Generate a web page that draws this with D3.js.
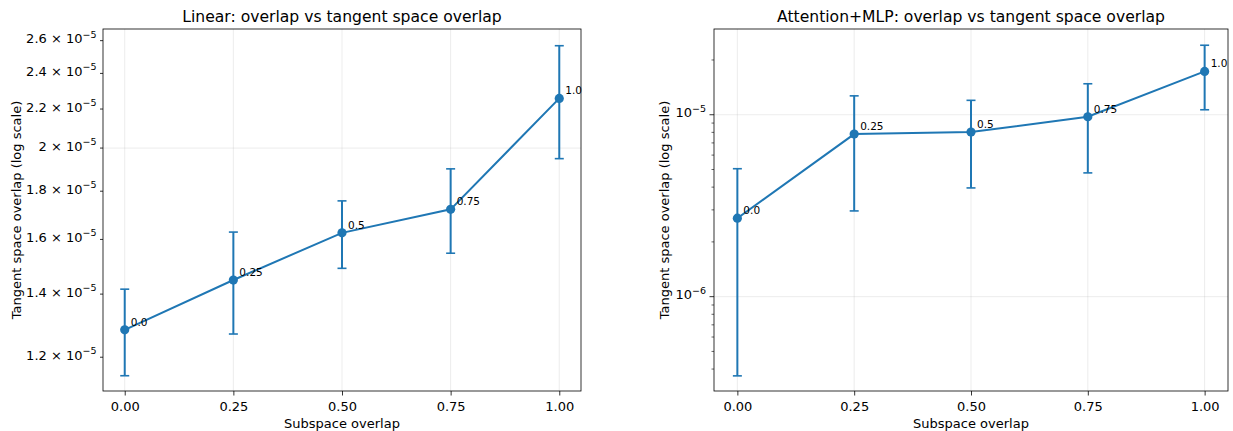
<!DOCTYPE html>
<html>
<head>
<meta charset="utf-8">
<script src="https://cdn.jsdelivr.net/npm/d3@7"></script>
<style>
  body { margin: 0; background: #fff; }
  svg { font-family: "DejaVu Sans", sans-serif; }
</style>
</head>
<body>
<div id="chart"></div>
<script>
// x positions (subspace overlap) shared by both panels
const OVERLAP = [0.0, 0.25, 0.5, 0.75, 1.0];
const POINT_LABELS = ['0.0', '0.25', '0.5', '0.75', '1.0'];
const X_TICKS = [0, 0.25, 0.5, 0.75, 1.0];

// left panel: Linear
const LINEAR_MEAN = [1.283e-5, 1.449e-5, 1.626e-5, 1.722e-5, 2.258e-5];
const LINEAR_LOW  = [1.147e-5, 1.270e-5, 1.491e-5, 1.547e-5, 1.949e-5];
const LINEAR_HIGH = [1.417e-5, 1.629e-5, 1.758e-5, 1.901e-5, 2.568e-5];
const LINEAR_YTICKS = [1.2e-5, 1.4e-5, 1.6e-5, 1.8e-5, 2.0e-5, 2.2e-5, 2.4e-5, 2.6e-5];
const LINEAR_TICKTEXT = ['1.2', '1.4', '1.6', '1.8', '2', '2.2', '2.4', '2.6'];
const LINEAR_GRID = [2e-5];

// right panel: Attention+MLP
const ATTN_MEAN = [2.70e-6, 7.83e-6, 8.03e-6, 9.75e-6, 1.73e-5];
const ATTN_LOW  = [3.67e-7, 2.96e-6, 3.96e-6, 4.79e-6, 1.065e-5];
const ATTN_HIGH = [5.05e-6, 1.27e-5, 1.20e-5, 1.48e-5, 2.41e-5];
const ATTN_MAJOR = [1e-6, 1e-5];
const ATTN_MAJOR_EXP = ['−6', '−5'];
const ATTN_MINOR = [4e-7, 5e-7, 6e-7, 7e-7, 8e-7, 9e-7,
                    2e-6, 3e-6, 4e-6, 5e-6, 6e-6, 7e-6, 8e-6, 9e-6, 2e-5];

const W = 1233, H = 431;
const BLUE = '#1f77b4';

const svg = d3.select('#chart').append('svg')
  .attr('width', W).attr('height', H);

function panel(opt) {
  const m = opt.box;
  const g = svg.append('g');

  const x = d3.scaleLinear().domain([-0.05, 1.05]).range([m.x0, m.x1]);
  const y = d3.scaleLog().domain(opt.ydomain).range([m.y1, m.y0]);

  // grid
  g.selectAll('.vgrid').data(X_TICKS).enter().append('line')
    .attr('x1', d => x(d)).attr('x2', d => x(d))
    .attr('y1', m.y0).attr('y2', m.y1)
    .attr('stroke', '#b0b0b0').attr('stroke-opacity', 0.3).attr('stroke-width', 0.8);
  g.selectAll('.hgrid').data(opt.grid).enter().append('line')
    .attr('x1', m.x0).attr('x2', m.x1)
    .attr('y1', d => y(d)).attr('y2', d => y(d))
    .attr('stroke', '#b0b0b0').attr('stroke-opacity', 0.3).attr('stroke-width', 0.8);

  // x axis
  const xa = g.append('g').attr('transform', 'translate(0,' + m.y1 + ')')
    .call(d3.axisBottom(x).tickValues(X_TICKS).tickFormat(d3.format('.2f')).tickSize(4.5).tickPadding(6));
  xa.select('.domain').remove();
  xa.selectAll('text').attr('font-size', 13).attr('fill', '#000').attr('font-family', 'DejaVu Sans');
  xa.selectAll('line').attr('stroke', '#000').attr('stroke-width', 0.8);

  // y ticks
  g.selectAll('.ytick').data(opt.yticks).enter().append('line')
    .attr('x1', m.x0 - opt.ytickLen).attr('x2', m.x0)
    .attr('y1', d => y(d)).attr('y2', d => y(d))
    .attr('stroke', '#000').attr('stroke-width', 0.8);
  if (opt.yminor) {
    g.selectAll('.yminor').data(opt.yminor).enter().append('line')
      .attr('x1', m.x0 - 2.5).attr('x2', m.x0)
      .attr('y1', d => y(d)).attr('y2', d => y(d))
      .attr('stroke', '#000').attr('stroke-width', 0.6);
  }
  const lab = g.selectAll('.ylab').data(opt.yticks).enter().append('text')
    .attr('x', m.x0 - opt.ytickLen - 3.5).attr('y', d => y(d))
    .attr('dy', '0.2em')
    .attr('text-anchor', 'end').attr('font-size', 13).attr('fill', '#000');
  lab.each(function(d, i) {
    const t = d3.select(this);
    t.append('tspan').text(opt.ytext[i]);
    t.append('tspan').attr('font-size', 9.5).attr('dy', '-0.6em').text(opt.yexp[i]);
  });

  // spines
  g.append('rect').attr('x', m.x0).attr('y', m.y0)
    .attr('width', m.x1 - m.x0).attr('height', m.y1 - m.y0)
    .attr('fill', 'none').attr('stroke', '#000').attr('stroke-width', 0.8);

  // error bars
  const data = OVERLAP.map((v, i) => ({x: v, m: opt.mean[i], lo: opt.low[i], hi: opt.high[i], label: POINT_LABELS[i]}));
  g.selectAll('.err').data(data).enter().append('line')
    .attr('x1', d => x(d.x)).attr('x2', d => x(d.x))
    .attr('y1', d => y(d.lo)).attr('y2', d => y(d.hi))
    .attr('stroke', BLUE).attr('stroke-width', 2);
  ['lo', 'hi'].forEach(k => {
    g.selectAll('.cap' + k).data(data).enter().append('line')
      .attr('x1', d => x(d.x) - 4.5).attr('x2', d => x(d.x) + 4.5)
      .attr('y1', d => y(d[k])).attr('y2', d => y(d[k]))
      .attr('stroke', BLUE).attr('stroke-width', 1.6);
  });

  // line + points
  const line = d3.line().x(d => x(d.x)).y(d => y(d.m));
  g.append('path').datum(data).attr('d', line)
    .attr('fill', 'none').attr('stroke', BLUE).attr('stroke-width', 2);
  g.selectAll('.pt').data(data).enter().append('circle')
    .attr('cx', d => x(d.x)).attr('cy', d => y(d.m)).attr('r', 4.6)
    .attr('fill', BLUE);

  // point annotations
  g.selectAll('.ann').data(data).enter().append('text')
    .attr('x', d => x(d.x) + 6).attr('y', d => y(d.m) - 4)
    .attr('font-size', 10.5).attr('fill', '#000').text(d => d.label);

  // title + labels
  g.append('text').attr('x', (m.x0 + m.x1) / 2).attr('y', 22)
    .attr('text-anchor', 'middle').attr('font-size', 15.6).attr('fill', '#000').text(opt.title);
  g.append('text').attr('x', (m.x0 + m.x1) / 2).attr('y', 428)
    .attr('text-anchor', 'middle').attr('font-size', 13).attr('fill', '#000').text('Subspace overlap');
  g.append('text')
    .attr('transform', 'translate(' + opt.ylabX + ',' + ((m.y0 + m.y1) / 2) + ') rotate(-90)')
    .attr('text-anchor', 'middle').attr('font-size', 13).attr('fill', '#000')
    .text('Tangent space overlap (log scale)');
}

panel({
  box: {x0: 103, x1: 581, y0: 29, y1: 391},
  ydomain: [1.105e-5, 2.675e-5],
  title: 'Linear: overlap vs tangent space overlap',
  mean: LINEAR_MEAN, low: LINEAR_LOW, high: LINEAR_HIGH,
  yticks: LINEAR_YTICKS,
  ytext: LINEAR_TICKTEXT.map(t => t + ' × 10'),
  yexp: LINEAR_YTICKS.map(() => '−5'),
  ytickLen: 3,
  grid: LINEAR_GRID,
  ylabX: 21
});

panel({
  box: {x0: 714, x1: 1228, y0: 29, y1: 391},
  ydomain: [3.03e-7, 2.96e-5],
  title: 'Attention+MLP: overlap vs tangent space overlap',
  mean: ATTN_MEAN, low: ATTN_LOW, high: ATTN_HIGH,
  yticks: ATTN_MAJOR,
  ytext: ATTN_MAJOR.map(() => '10'),
  yexp: ATTN_MAJOR_EXP,
  yminor: ATTN_MINOR,
  ytickLen: 4.5,
  grid: ATTN_MAJOR,
  ylabX: 669
});
</script>
</body>
</html>
